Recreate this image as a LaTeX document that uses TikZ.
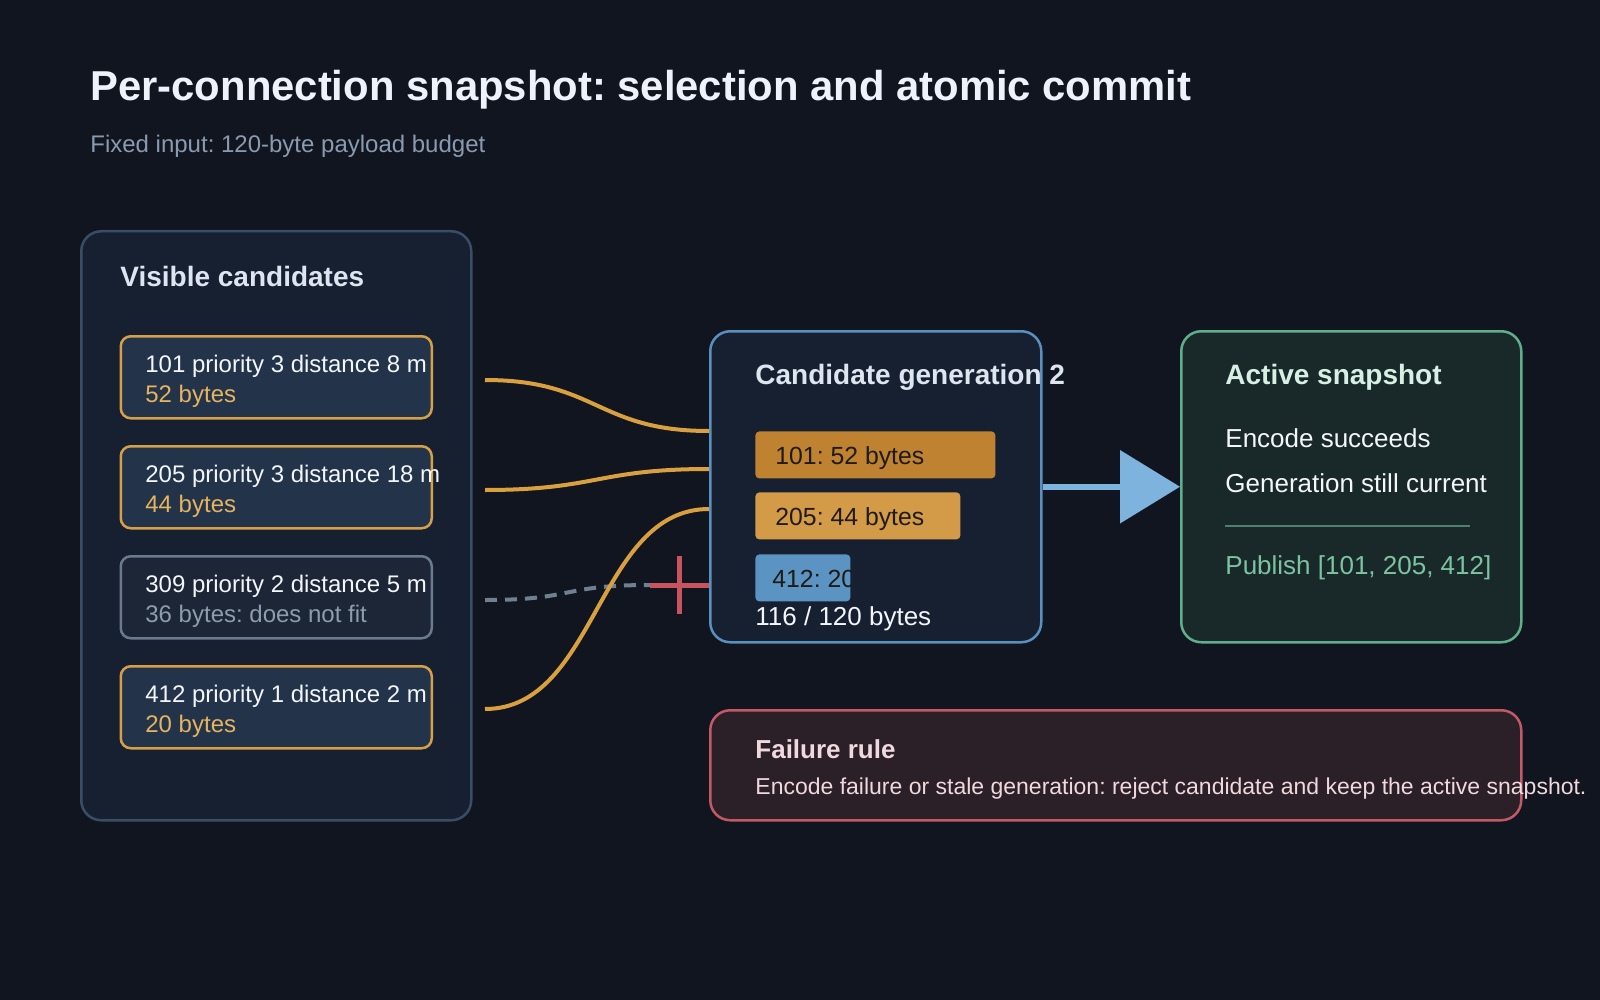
\documentclass[tikz,border=0pt]{standalone}
\usepackage{fontspec}
\setmainfont{Liberation Sans}
\frenchspacing
\usetikzlibrary{arrows.meta}
\definecolor{bg}{HTML}{111520}
\definecolor{titleink}{HTML}{EEF2FA}
\definecolor{subink}{HTML}{8A9BB0}
\definecolor{headink}{HTML}{DCE5F0}
\definecolor{ink}{HTML}{F3F6FA}
\definecolor{panelfill}{HTML}{172030}
\definecolor{paneledge}{HTML}{3A4D66}
\definecolor{candfill}{HTML}{22334A}
\definecolor{candedge}{HTML}{D6A049}
\definecolor{bytes}{HTML}{E6B35E}
\definecolor{skipfill}{HTML}{1C2636}
\definecolor{skipedge}{HTML}{6B7A8C}
\definecolor{skipink}{HTML}{8F9CAB}
\definecolor{genedge}{HTML}{5A8FBF}
\definecolor{barA}{HTML}{BF8230}
\definecolor{barB}{HTML}{D39B48}
\definecolor{barC}{HTML}{5B93C2}
\definecolor{barink}{HTML}{1E1A16}
\definecolor{snapfill}{HTML}{19292A}
\definecolor{snapedge}{HTML}{5FAE8C}
\definecolor{snaphead}{HTML}{D8F0E4}
\definecolor{snaprule}{HTML}{4F7F6E}
\definecolor{publish}{HTML}{7CC4A0}
\definecolor{failfill}{HTML}{2B1F28}
\definecolor{failedge}{HTML}{C25A66}
\definecolor{failink}{HTML}{F0D9DD}
\definecolor{feed}{HTML}{D9A040}
\definecolor{dropped}{HTML}{6F8090}
\definecolor{stop}{HTML}{C9535F}
\definecolor{commit}{HTML}{7DB3DC}
\tikzset{
    txt/.style={anchor=west, inner sep=0pt, text=ink, font=\fontsize{12}{14}\selectfont},
    big/.style={txt, font=\fontsize{13}{15}\selectfont},
    head/.style={txt, text=headink, font=\bfseries\fontsize{14}{16}\selectfont},
    box/.style={draw, anchor=north west, inner sep=0pt, rounded corners=10pt, line width=1.25pt},
    cand/.style={box, draw=candedge, fill=candfill, rounded corners=5pt, minimum width=155.5pt, minimum height=41pt},
    bar/.style={anchor=north west, inner sep=0pt, rounded corners=2pt, minimum height=23.5pt},
    feedline/.style={feed, line width=2pt},
    stopline/.style={stop, line width=2.5pt},
}
\begin{document}
\begin{tikzpicture}[x=0.5pt, y=-0.5pt]
    \fill[bg] (0,0) rectangle (1600,1000);
    \node[txt, text=titleink, font=\bfseries\fontsize{20.9}{24}\selectfont] (title) at (90,90) {Per-connection snapshot: selection and atomic commit};
    \node[txt, text=subink] (sub) at (90,146) {Fixed input: 120-byte payload budget};

    \node[box, draw=paneledge, fill=panelfill, minimum width=195pt, minimum height=294.5pt] (visible) at (80,230) {};
    \node[head] (visiblehead) at (120,276) {Visible candidates};
    \node[cand] (c101) at (119.5,335) {};
    \node[txt] (c101a) at (145,366) {101 priority 3 distance 8 m};
    \node[txt, text=bytes] (c101b) at (145,396) {52 bytes};
    \node[cand] (c205) at (119.5,445) {};
    \node[txt] (c205a) at (145,476) {205 priority 3 distance 18 m};
    \node[txt, text=bytes] (c205b) at (145,506) {44 bytes};
    \node[cand, draw=skipedge, fill=skipfill] (c309) at (119.5,555) {};
    \node[txt] (c309a) at (145,586) {309 priority 2 distance 5 m};
    \node[txt, text=skipink] (c309b) at (145,616) {36 bytes: does not fit};
    \node[cand] (c412) at (119.5,665) {};
    \node[txt] (c412a) at (145,696) {412 priority 1 distance 2 m};
    \node[txt, text=bytes] (c412b) at (145,726) {20 bytes};

    \node[box, draw=genedge, fill=panelfill, minimum width=165.5pt, minimum height=155.5pt] (gen) at (709,330) {};
    \node[head] (genhead) at (755,377) {Candidate generation 2};
    \node[bar, fill=barA, minimum width=120pt] (b101) at (755,431) {};
    \node[txt, text=barink, font=\fontsize{12.4}{14}\selectfont] (b101t) at (775,458) {101: 52 bytes};
    \node[bar, fill=barB, minimum width=102.5pt] (b205) at (755,492) {};
    \node[txt, text=barink, font=\fontsize{12.4}{14}\selectfont] (b205t) at (775,519) {205: 44 bytes};
    \node[bar, fill=barC, minimum width=47.5pt] (b412) at (755,554) {};
    \begin{scope}
        \clip (b412.north west) rectangle (b412.south east);
        \node[txt, text=barink, font=\fontsize{12.4}{14}\selectfont] (b412t) at (772,581) {412: 20 bytes};
    \end{scope}
    \node[big] (total) at (755,619) {116 / 120 bytes};

    \node[box, draw=snapedge, fill=snapfill, minimum width=170pt, minimum height=155.5pt] (snap) at (1180,330) {};
    \node[head, text=snaphead] (snaphead) at (1225,377) {Active snapshot};
    \node[big] (encode) at (1225,438) {Encode succeeds};
    \node[big] (current) at (1225,483) {Generation still current};
    \draw[snaprule, line width=0.6pt] (1225,526) -- (1470,526);
    \node[big, text=publish] (publish) at (1225,568) {Publish [101, 205, 412]};

    \node[box, draw=failedge, fill=failfill, minimum width=405.5pt, minimum height=55pt] (fail) at (709,709) {};
    \node[head, text=failink, font=\bfseries\fontsize{13}{15}\selectfont] (failhead) at (755,749) {Failure rule};
    \node[txt, text=failink, font=\fontsize{11.5}{13}\selectfont] (failtext) at (755,789) {Encode failure or stale generation: reject candidate and keep the active snapshot.};

    \coordinate (o101) at (485,380);
    \coordinate (o205) at (485,490);
    \coordinate (o309) at (485,600);
    \coordinate (o412) at (485,709);
    \coordinate (i101) at (709,431);
    \coordinate (i205) at (709,469);
    \coordinate (i412) at (709,509);
    \coordinate (x309) at (650,585);
    \coordinate (xtop) at (679,556);
    \coordinate (xbot) at (679,614);
    \draw[dropped, line width=2pt, dash pattern=on 6pt off 4pt] (o309) .. controls +(90,0) and +(-90,0) .. (x309);
    \draw[stopline] (x309) -- (gen.west |- x309);
    \draw[stopline] (xtop) -- (xbot);
    \draw[feedline] (o101) .. controls +(112,0) and +(-112,0) .. (i101);
    \draw[feedline] (o205) .. controls +(112,0) and +(-112,0) .. (i205);
    \draw[feedline] (o412) .. controls +(112,0) and +(-112,0) .. (i412);
    \draw[commit, line width=3pt, -{Triangle[length=30pt, width=36pt]}] (gen.east) -- (snap.west);
\end{tikzpicture}
\end{document}
